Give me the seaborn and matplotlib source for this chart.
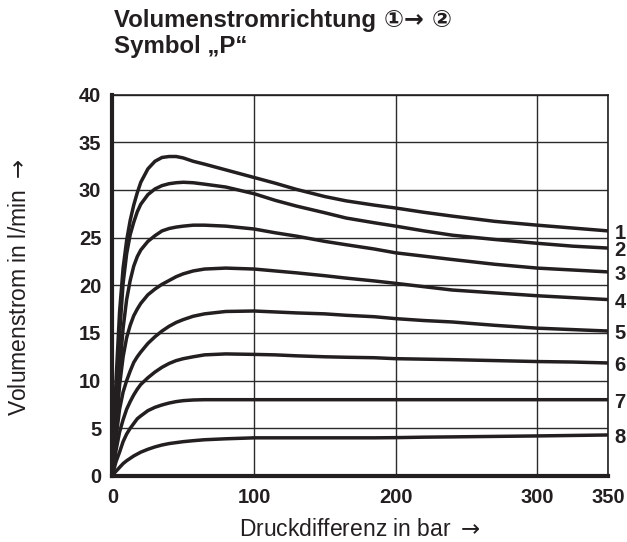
import matplotlib
matplotlib.use("Agg")
import matplotlib.pyplot as plt
import numpy as np
import pandas as pd
import seaborn as sns

# Pressure difference (bar) at which each characteristic is sampled
druck = [0, 1, 2.5, 5, 7.5, 10, 12.5, 15, 17.5, 20, 25, 30, 35, 40, 45, 50, 57, 65, 80,
         100, 115, 130, 150, 165, 185, 200, 220, 240, 270, 300, 325, 350]

# Flow rate (l/min) for the eight characteristic curves
kennlinie_1 = [0, 4.5, 10.0, 17.2, 21.8, 24.7, 26.8, 28.4, 29.7, 30.8, 32.2, 33.0, 33.4, 33.5, 33.5, 33.35,
               33.0, 32.7, 32.1, 31.3, 30.7, 30.05, 29.3, 28.85, 28.4, 28.1, 27.65, 27.25, 26.7, 26.3, 26.0, 25.7]
kennlinie_2 = [0, 3.5, 8.0, 14.8, 20.2, 23.3, 25.3, 26.6, 27.7, 28.5, 29.5, 30.1, 30.45, 30.65, 30.75, 30.8,
               30.75, 30.6, 30.3, 29.6, 28.9, 28.3, 27.6, 27.05, 26.55, 26.2, 25.7, 25.25, 24.8, 24.4, 24.1, 23.9]
kennlinie_3 = [0, 2.5, 6.0, 11.0, 15.5, 18.5, 20.5, 22.0, 23.0, 23.7, 24.6, 25.2, 25.7, 25.95, 26.1, 26.2,
               26.3, 26.3, 26.2, 25.9, 25.5, 25.15, 24.6, 24.25, 23.8, 23.4, 23.05, 22.7, 22.2, 21.8, 21.6, 21.4]
kennlinie_4 = [0, 2.0, 4.8, 9.5, 12.5, 14.5, 15.8, 16.8, 17.5, 18.1, 19.0, 19.6, 20.1, 20.5, 20.9, 21.2,
               21.5, 21.7, 21.8, 21.7, 21.5, 21.3, 21.0, 20.75, 20.45, 20.2, 19.85, 19.5, 19.2, 18.9, 18.7, 18.5]
kennlinie_5 = [0, 1.8, 4.0, 7.0, 8.8, 10.0, 11.0, 11.9, 12.5, 13.0, 13.9, 14.6, 15.2, 15.7, 16.1, 16.4,
               16.75, 17.0, 17.25, 17.3, 17.2, 17.1, 17.0, 16.85, 16.7, 16.5, 16.3, 16.15, 15.8, 15.5, 15.35, 15.2]
kennlinie_6 = [0, 1.2, 2.7, 4.6, 5.9, 7.0, 7.8, 8.5, 9.1, 9.6, 10.3, 10.9, 11.4, 11.8, 12.1, 12.3,
               12.5, 12.7, 12.8, 12.75, 12.7, 12.6, 12.5, 12.45, 12.4, 12.3, 12.25, 12.2, 12.1, 12.0, 11.95, 11.85]
kennlinie_7 = [0, 0.7, 1.5, 2.5, 3.6, 4.4, 5.0, 5.5, 6.0, 6.3, 6.85, 7.2, 7.45, 7.65, 7.8, 7.9,
               7.97, 8.0, 8.0, 8.0, 8.0, 8.0, 8.0, 8.0, 8.0, 8.0, 8.0, 8.0, 8.0, 8.0, 8.0, 8.0]
kennlinie_8 = [0, 0.25, 0.5, 0.9, 1.3, 1.6, 1.85, 2.1, 2.3, 2.5, 2.8, 3.05, 3.25, 3.4, 3.5, 3.6,
               3.7, 3.8, 3.9, 4.0, 4.0, 4.0, 4.0, 4.0, 4.0, 4.02, 4.07, 4.1, 4.15, 4.2, 4.25, 4.3]

kennlinien = [kennlinie_1, kennlinie_2, kennlinie_3, kennlinie_4,
              kennlinie_5, kennlinie_6, kennlinie_7, kennlinie_8]
kurven_namen = ["1", "2", "3", "4", "5", "6", "7", "8"]

x_ticks = [0, 100, 200, 300, 350]
y_ticks = [0, 5, 10, 15, 20, 25, 30, 35, 40]

ink = "#231f20"

sns.set_style("white")
plt.rcParams["font.family"] = ["Liberation Sans", "DejaVu Sans"]
plt.rcParams["mathtext.fontset"] = "dejavusans"

df = pd.DataFrame({
    "druck": np.tile(druck, len(kennlinien)),
    "volumenstrom": np.concatenate(kennlinien),
    "kennlinie": np.repeat(kurven_namen, len(druck)),
})

fig = plt.figure(figsize=(6.27, 5.42), dpi=100)
ax = fig.add_axes([0.1794, 0.1218, 0.7903, 0.7038])

sns.lineplot(data=df, x="druck", y="volumenstrom", hue="kennlinie",
             palette=[ink] * len(kurven_namen), estimator=None, sort=False,
             legend=False, linewidth=2.5, ax=ax, zorder=3)
for line in ax.get_lines():
    line.set_solid_joinstyle("round")
    line.set_solid_capstyle("round")

ax.set_xlim(0, 350)
ax.set_ylim(0, 40)
ax.set_xticks(x_ticks)
ax.set_yticks(y_ticks)

tick_font = dict(family=["Liberation Sans", "DejaVu Sans"], weight="bold", size=14.5)
ax.set_xticklabels([str(v) for v in x_ticks], fontdict=tick_font)
ax.set_yticklabels([str(v) for v in y_ticks], fontdict=tick_font)
ax.tick_params(axis="both", length=0, colors=ink)
ax.tick_params(axis="x", pad=9)
ax.tick_params(axis="y", pad=8)

ax.grid(True, color="#2b2b2b", linewidth=1.0)
ax.set_axisbelow(True)

for side in ("left", "bottom"):
    ax.spines[side].set_linewidth(3.0)
for side in ("top", "right"):
    ax.spines[side].set_linewidth(1.2)
for sp in ax.spines.values():
    sp.set_color(ink)
    sp.set_zorder(4)

# Curve numbers at the right end of each characteristic
for name, werte in zip(kurven_namen, kennlinien):
    ax.annotate(name, xy=(druck[-1], werte[-1]), xytext=(4.5, -2),
                textcoords="offset points", ha="left", va="center",
                fontsize=14.5, fontweight="bold", color=ink,
                family=["Liberation Sans", "DejaVu Sans"],
                annotation_clip=False)

ax.set_xlabel(r"Druckdifferenz in bar $\rightarrow$", fontsize=16.5, color=ink, va="baseline")
ax.xaxis.set_label_coords(0.5, -0.1573)
ax.set_ylabel(r"Volumenstrom in l/min $\rightarrow$", fontsize=16.5, color=ink, va="center")
ax.yaxis.set_label_coords(-0.1867, 0.494)

# Two-line heading; the flow direction symbols are set right after the first words
title_x = 0.1818
title_font = dict(family=["Liberation Sans"], weight="bold", size=17.3, color=ink)
head = fig.text(title_x, 1 - 27.3 / 542, "Volumenstromrichtung ", va="baseline", ha="left", **title_font)
fig.text(title_x, 1 - 52.7 / 542, "Symbol „P“", va="baseline", ha="left", **title_font)

renderer = fig.canvas.get_renderer()
head_box = head.get_window_extent(renderer)
fig.text(head_box.x1 / fig.bbox.width + 0.002, 1 - 27.3 / 542, "①→ ②", va="baseline", ha="left",
         family=["DejaVu Sans"], weight="bold", size=17, color=ink)

fig.savefig("out.png", dpi=100)
